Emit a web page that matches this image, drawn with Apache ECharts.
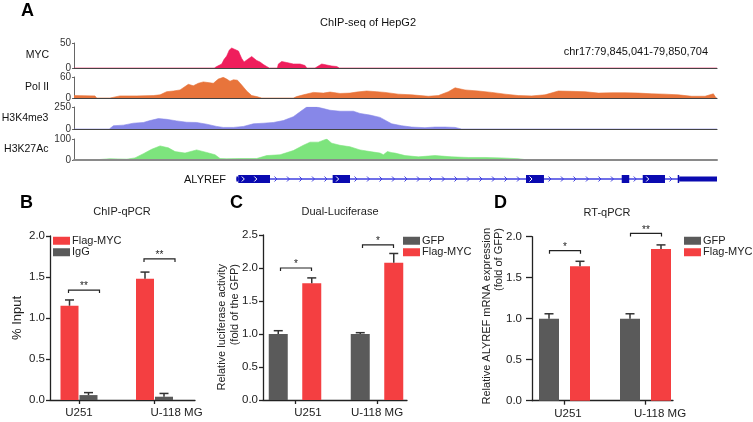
<!DOCTYPE html>
<html><head><meta charset="utf-8">
<script src="https://cdn.jsdelivr.net/npm/echarts@6/dist/echarts.min.js"></script>
<style>html,body{margin:0;padding:0;background:#fff}#c{width:753px;height:422px}</style>
</head><body><div id="c"></div>
<script>
const FONT = '"Liberation Sans", Arial, Helvetica, sans-serif';

// ===== Panel A: ChIP-seq tracks, [bp offset from chr17:79,845,041, signal] =====
const REGION_LEN = 5663;
const MYC = [[0,0],[1236,0],[1257,3],[1301,8],[1321,17],[1345,24],[1368,36],[1389,40],[1418,37],[1448,34],[1477,19],[1498,12],[1521,16],[1565,23],[1609,15],[1638,12],[1668,7],[1697,3],[1720,0],[1791,0],[1800,8],[1829,13],[1873,11],[1932,8],[1991,8],[2035,5],[2050,0],[2123,0],[2138,4],[2182,8],[2226,6],[2270,4],[2314,3],[2337,0],[5663,0]];
const POL2 = [[0,7],[185,6],[195,6],[200,0],[317,0],[332,4],[405,6],[552,6],[699,7],[758,9],[816,18],[875,20],[934,23],[1007,39],[1051,35],[1095,42],[1139,46],[1183,44],[1227,42],[1271,54],[1315,59],[1345,54],[1374,48],[1404,52],[1439,51],[1477,37],[1521,20],[1565,7],[1609,4],[1653,0],[1932,0],[1961,4],[2020,9],[2108,16],[2196,14],[2255,17],[2343,13],[2431,14],[2490,17],[2578,20],[2666,18],[2739,16],[2856,11],[2974,9],[3121,5],[3209,7],[3297,18],[3356,29],[3444,23],[3561,20],[3679,16],[3796,11],[3913,7],[4031,6],[4148,9],[4266,20],[4383,19],[4501,18],[4618,14],[4736,15],[4853,15],[4970,14],[5088,12],[5205,11],[5323,9],[5440,5],[5558,5],[5631,12],[5655,0],[5663,0]];
const H3K4ME3 = [[0,0],[311,0],[347,37],[435,44],[523,66],[611,74],[670,96],[743,118],[816,110],[904,92],[992,77],[1080,74],[1168,55],[1257,29],[1315,18],[1403,18],[1492,29],[1580,59],[1668,66],[1756,74],[1844,96],[1932,140],[1991,195],[2050,250],[2138,250],[2196,232],[2255,213],[2343,202],[2460,202],[2519,177],[2607,158],[2695,132],[2740,100],[2798,59],[2886,37],[2974,22],[3091,15],[3179,22],[3267,22],[3356,18],[3414,0],[5663,0]];
const H3K27AC = [[0,0],[165,0],[170,4],[317,6],[464,4],[537,10],[611,30],[684,51],[758,67],[831,58],[890,40],[978,33],[1080,48],[1168,36],[1242,25],[1286,7],[1345,6],[1462,7],[1609,7],[1697,21],[1815,25],[1932,45],[2020,70],[2079,85],[2152,85],[2226,100],[2270,80],[2343,70],[2431,63],[2519,48],[2607,40],[2695,33],[2725,25],[2760,40],[2800,35],[2827,33],[2915,21],[3033,15],[3179,21],[3326,15],[3473,12],[3620,12],[3767,10],[3913,6],[4001,0],[5663,0]];
const TRACK_NAMES = ['MYC', 'Pol II', 'H3K4me3', 'H3K27Ac'];
const TRACK_MAX = [50, 60, 250, 100];

// ALYREF gene model (bp offsets)
const GENE = [1430, 5663];
const EXONS = [[1447,1726],[2278,2431],[3981,4139],[4824,4890],[5009,5205],[5317,5330]];
const UTRS = [[1430,1447],[5330,5663]];

// ===== Panels B, C, D =====
const CATS = ['U251', 'U-118 MG'];
// B: ChIP-qPCR (% Input)
const B_FLAG = [1.15, 1.48], B_FLAG_ERR = [0.07, 0.08];
const B_IGG = [0.06, 0.04], B_IGG_ERR = [0.03, 0.04];
const B_SIG_Y = [1.34, 1.72], B_SIG = ['**', '**'];
// C: Dual-Luciferase
const C_GFP = [1.0, 1.0], C_GFP_ERR = [0.05, 0.02];
const C_FLAG = [1.77, 2.08], C_FLAG_ERR = [0.08, 0.14];
const C_SIG_Y = [2.0, 2.35], C_SIG = ['*', '*'];
// D: RT-qPCR
const D_GFP = [1.0, 1.0], D_GFP_ERR = [0.06, 0.06];
const D_FLAG = [1.64, 1.85], D_FLAG_ERR = [0.06, 0.05];
const D_SIG_Y = [1.83, 2.04], D_SIG = ['*', '**'];

// ===== styles =====
const RED = '#F43F41', GRAY = '#5A5A5A', INK = '#222';
const TRACK_COLORS = ['#EF1E5C', '#E8743B', '#8787E8', '#7DE47D'];
const GENE_DARK = '#0A0AB0', GENE_LINE = '#3F3FE0';

const chart = echarts.init(document.getElementById('c'), null, {renderer: 'canvas'});

const grids = [], xAxes = [], yAxes = [], series = [];
const trackTops = [[43,25],[77,21],[107,22],[139,21]];
const trackData = [MYC, POL2, H3K4ME3, H3K27AC];
trackTops.forEach((t, i) => {
  grids.push({left: 74, right: 36, top: t[0], height: t[1], outerBoundsMode: 'none'});
  const last = i === 3;
  xAxes.push({gridIndex: i, type: 'value', min: 0, max: REGION_LEN, z: 5,
    axisLine: {show: true, onZero: false, lineStyle: {color: last ? '#8a8a8a' : '#444', width: last ? 2 : 1.2}},
    axisTick: {show: false}, axisLabel: {show: false}, splitLine: {show: false}});
  yAxes.push({gridIndex: i, type: 'value', min: 0, max: TRACK_MAX[i], interval: TRACK_MAX[i],
    axisLine: {show: true, lineStyle: {color: '#666', width: 1}},
    axisTick: {show: true, length: 2, lineStyle: {color: '#666'}},
    axisLabel: {fontSize: 10, color: '#333', margin: 3, fontFamily: FONT},
    splitLine: {show: false},
    name: TRACK_NAMES[i], nameLocation: 'middle', nameRotate: 0, nameGap: 25,
    nameTextStyle: {fontSize: 10.5, color: '#111', fontFamily: FONT}});
  series.push({type: 'line', xAxisIndex: i, yAxisIndex: i, data: trackData[i], symbol: 'none', showSymbol: false,
    silent: true, lineStyle: {color: TRACK_COLORS[i], width: 0.6}, itemStyle: {color: TRACK_COLORS[i]},
    areaStyle: {color: TRACK_COLORS[i], opacity: 1}});
});

// gene grid (index 4)
grids.push({left: 74, right: 36, top: 172, height: 14, outerBoundsMode: 'none'});
xAxes.push({gridIndex: 4, type: 'value', min: 0, max: REGION_LEN, show: false});
yAxes.push({gridIndex: 4, type: 'value', min: 0, max: 1, show: false});
function chev(x, y, color) {
  return {type: 'polyline', shape: {points: [[x - 1.5, y - 2.5], [x + 1, y], [x - 1.5, y + 2.5]]},
    style: {stroke: color, lineWidth: 1, fill: null}};
}
series.push({type: 'custom', xAxisIndex: 4, yAxisIndex: 4, silent: true, data: [GENE],
  renderItem: (params, api) => {
    const yc = api.coord([0, 0.5])[1];
    const X = v => api.coord([v, 0.5])[0];
    const ch = [];
    ch.push({type: 'line', shape: {x1: X(GENE[0]), y1: yc, x2: X(GENE[1]), y2: yc}, style: {stroke: GENE_LINE, lineWidth: 1.4}});
    const blocks = EXONS.concat(UTRS).map(b => [X(b[0]), X(b[1])]).sort((a, b) => a[0] - b[0]);
    for (let k = 0; k < blocks.length - 1; k++) {
      const a = blocks[k][1], b = blocks[k + 1][0];
      for (let x = a + 6; x < b - 3; x += 12.5) ch.push(chev(x, yc, GENE_LINE));
    }
    UTRS.forEach(u => { const a = X(u[0]), b = X(u[1]);
      ch.push({type: 'rect', shape: {x: a, y: yc - 2.5, width: b - a, height: 5}, style: {fill: GENE_DARK}}); });
    EXONS.forEach(e => { const a = X(e[0]), b = X(e[1]);
      ch.push({type: 'rect', shape: {x: a, y: yc - 4, width: b - a, height: 8}, style: {fill: GENE_DARK}});
      for (let x = a + 5; x < b - 7; x += 12.5) ch.push(chev(x, yc, '#ffffff'));
    });
    return {type: 'group', children: ch};
  }});

// bar panels
function panel(cfg) {
  const f = grids.length, p = f + 1;
  grids.push({left: cfg.axisX, top: cfg.top, width: cfg.axisW, height: cfg.h, outerBoundsMode: 'none'});
  grids.push({left: cfg.plotL, top: cfg.top, width: cfg.plotW, height: cfg.h, outerBoundsMode: 'none'});
  const line = {color: INK, width: 1.3};
  xAxes.push({gridIndex: f, type: 'value', min: 0, max: 1, axisLine: {show: true, onZero: false, lineStyle: line},
    axisTick: {show: false}, axisLabel: {show: false}, splitLine: {show: false}});
  yAxes.push({gridIndex: f, type: 'value', min: 0, max: cfg.max, interval: 0.5,
    axisLine: {show: true, lineStyle: line}, axisTick: {show: true, length: cfg.tickLen, lineStyle: line},
    axisLabel: {formatter: v => v.toFixed(1), fontSize: 11.5, color: INK, margin: cfg.labMargin, fontFamily: FONT},
    splitLine: {show: false}});
  const rich = {};
  cfg.labShift.forEach((s, i) => { rich['s' + i] = {fontSize: 11.5, color: INK, fontFamily: FONT, padding: [0, s > 0 ? 0 : -s * 2, 0, s > 0 ? s * 2 : 0]}; });
  xAxes.push({gridIndex: p, type: 'category', data: CATS,
    axisLine: {show: false}, axisTick: {show: true, alignWithLabel: true, length: 4, lineStyle: line},
    axisLabel: {margin: 7, interval: 0, formatter: (v, i) => '{s' + i + '|' + v + '}', rich: rich},
    splitLine: {show: false}});
  yAxes.push({gridIndex: p, type: 'value', min: 0, max: cfg.max, show: false});
  const gapPct = (cfg.gap / cfg.barW * 100) + '%';
  cfg.bars.forEach((b, k) => {
    series.push({type: 'bar', name: b.name, xAxisIndex: p, yAxisIndex: p, data: b.data, barWidth: cfg.barW,
      barGap: gapPct, itemStyle: {color: b.color}, silent: true});
  });
  cfg.bars.forEach((b, k) => {
    const side = k === 0 ? -1 : 1;
    series.push({type: 'custom', xAxisIndex: p, yAxisIndex: p, z: 4, silent: true,
      data: b.data.map((m, i) => [i, m, b.err[i]]),
      renderItem: (params, api) => {
        const base = api.coord([api.value(0), api.value(1)]);
        const top = api.coord([api.value(0), api.value(1) + api.value(2)]);
        const x = base[0] + side * (cfg.barW + cfg.gap) / 2;
        const st = {stroke: '#333', lineWidth: 1.5};
        return {type: 'group', children: [
          {type: 'line', shape: {x1: x, y1: base[1], x2: x, y2: top[1]}, style: st},
          {type: 'line', shape: {x1: x - 4.5, y1: top[1], x2: x + 4.5, y2: top[1]}, style: st}]};
      }});
  });
  series.push({type: 'custom', xAxisIndex: p, yAxisIndex: p, z: 4, silent: true,
    data: cfg.sigY.map((y, i) => [i, y]),
    renderItem: (params, api) => {
      const c = api.coord([api.value(0), api.value(1)]);
      const x1 = c[0] - 15.5 + cfg.brShift, x2 = c[0] + 15.5 + cfg.brShift, y = c[1];
      return {type: 'group', children: [
        {type: 'polyline', shape: {points: [[x1, y + 3], [x1, y], [x2, y], [x2, y + 3]]}, style: {stroke: INK, lineWidth: 1.2, fill: null}},
        {type: 'text', x: (x1 + x2) / 2, y: y + 1.5, style: {text: cfg.sig[params.dataIndex], fill: INK, font: '10px ' + FONT,
          align: 'center', verticalAlign: 'bottom', textAlign: 'center', textVerticalAlign: 'bottom'}}]};
    }});
}

panel({axisX: 50, axisW: 145, plotL: 41.25, plotW: 151, top: 236, h: 164, max: 2, tickLen: 4, labMargin: 5,
  barW: 18, gap: 1, brShift: 5, labShift: [0, 22], sigY: B_SIG_Y, sig: B_SIG,
  bars: [{name: 'Flag-MYC', data: B_FLAG, err: B_FLAG_ERR, color: RED}, {name: 'IgG', data: B_IGG, err: B_IGG_ERR, color: GRAY}]});
panel({axisX: 263, axisW: 144, plotL: 254, plotW: 164, top: 235, h: 165, max: 2.5, tickLen: 4, labMargin: 5,
  barW: 19, gap: 14.5, brShift: 1, labShift: [13, 0], sigY: C_SIG_Y, sig: C_SIG,
  bars: [{name: 'GFP', data: C_GFP, err: C_GFP_ERR, color: GRAY}, {name: 'Flag-MYC', data: C_FLAG, err: C_FLAG_ERR, color: RED}]});
panel({axisX: 532, axisW: 141, plotL: 524, plotW: 162, top: 236.7, h: 164, max: 2, tickLen: 6, labMargin: 10,
  barW: 20, gap: 11, brShift: 0.5, labShift: [3.5, 14.5], sigY: D_SIG_Y, sig: D_SIG,
  bars: [{name: 'GFP', data: D_GFP, err: D_GFP_ERR, color: GRAY}, {name: 'Flag-MYC', data: D_FLAG, err: D_FLAG_ERR, color: RED}]});

function legend(left, names) {
  return {data: names, left: left, top: 235, orient: 'vertical', icon: 'rect', itemWidth: 17, itemHeight: 8,
    itemGap: 0, padding: 0, selectedMode: false,
    textStyle: {fontSize: 11, color: INK, fontFamily: FONT, lineHeight: 11.5, padding: [0, 0, 0, -3]}};
}

function txt(x, y, text, size, opts) {
  opts = opts || {};
  return {type: 'text', x: x, y: y, rotation: opts.rot || 0, silent: true,
    style: {text: text, fill: opts.color || INK,
      font: (opts.bold ? 'bold ' : '') + size + 'px ' + FONT,
      align: opts.align || 'left', verticalAlign: 'middle',
      textAlign: opts.align || 'left', textVerticalAlign: 'middle'}};
}
const R90 = Math.PI / 2;
const graphics = [
  txt(21, 11, 'A', 18, {bold: true, color: '#000'}),
  txt(368, 23, 'ChIP-seq of HepG2', 11, {align: 'center', color: '#111'}),
  txt(708, 52, 'chr17:79,845,041-79,850,704', 11, {align: 'right', color: '#111'}),
  txt(226, 179.5, 'ALYREF', 11, {align: 'right', color: '#111'}),
  txt(20, 203, 'B', 18, {bold: true, color: '#000'}),
  txt(230, 203, 'C', 18, {bold: true, color: '#000'}),
  txt(494, 203, 'D', 18, {bold: true, color: '#000'}),
  txt(122, 212, 'ChIP-qPCR', 11, {align: 'center'}),
  txt(340, 212, 'Dual-Luciferase', 11, {align: 'center'}),
  txt(607, 213, 'RT-qPCR', 11, {align: 'center'}),
  txt(17, 318, '% Input', 13, {align: 'center', rot: R90}),
  txt(222, 264, 'Relative luciferase activity', 11, {align: 'right', rot: R90}),
  txt(235, 264, '(fold of the GFP)', 11, {align: 'right', rot: R90}),
  txt(487, 228, 'Relative ALYREF mRNA expression', 11, {align: 'right', rot: R90}),
  txt(499, 228, '(fold of GFP)', 11, {align: 'right', rot: R90})
];

chart.setOption({
  animation: false,
  backgroundColor: '#ffffff',
  textStyle: {fontFamily: FONT},
  grid: grids, xAxis: xAxes, yAxis: yAxes, series: series,
  legend: [legend(53, ['Flag-MYC', 'IgG']), legend(403, ['GFP', 'Flag-MYC']), legend(684, ['GFP', 'Flag-MYC'])],
  graphic: graphics
});
</script></body></html>
